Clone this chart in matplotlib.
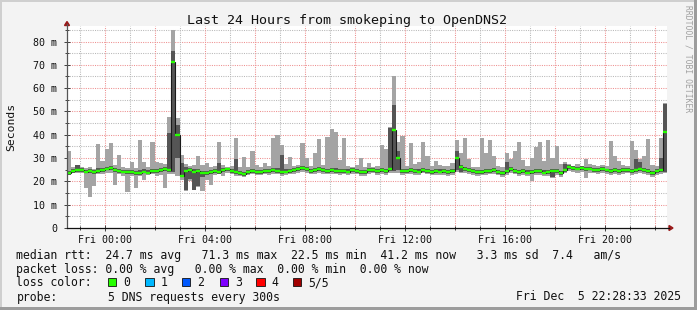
import matplotlib
matplotlib.use('Agg')
import matplotlib.pyplot as plt
import numpy as np
from matplotlib.lines import Line2D
from matplotlib.patches import Polygon, Rectangle

# ---------------- data (ms), 10-minute samples over the last 24 h ----------------
median = [
    23.6, 24.4, 25.0, 24.8, 24.2, 24.6, 24.0, 24.3, 24.8, 25.5,
    25.6, 24.9, 24.5, 24.2, 23.9, 24.1, 23.7, 23.6, 24.2, 23.8,
    24.5, 24.3, 25.0, 25.3, 25.0, 71.3, 40.0, 22.5, 24.5, 24.8,
    24.0, 24.3, 23.6, 23.4, 24.1, 24.6, 23.9, 24.7, 25.2, 24.4,
    24.0, 23.5, 23.2, 23.9, 24.4, 24.0, 24.1, 24.6, 24.3, 24.9,
    24.5, 24.0, 24.2, 24.5, 24.8, 25.3, 25.8, 25.1, 24.6, 24.9,
    25.2, 24.7, 24.5, 24.9, 24.6, 24.3, 24.6, 24.2, 24.8, 24.5,
    24.0, 23.9, 24.7, 25.0, 24.4, 24.9, 24.3, 25.3, 42.0, 30.0,
    24.3, 24.6, 24.9, 24.4, 24.2, 25.0, 24.5, 24.1, 24.4, 24.2,
    24.3, 24.0, 24.4, 30.0, 26.0, 25.3, 24.8, 24.4, 24.0, 24.1,
    24.3, 24.6, 24.9, 24.1, 23.6, 24.5, 25.1, 24.6, 24.0, 24.3,
    23.8, 23.9, 24.5, 24.3, 23.8, 24.1, 24.6, 24.4, 23.6, 25.0,
    26.2, 25.8, 25.5, 25.6, 25.3, 25.5, 25.0, 24.8, 25.2, 24.7,
    24.4, 24.8, 24.5, 24.9, 25.0, 24.5, 24.9, 25.4, 24.7, 24.3,
    23.6, 24.5, 25.0, 41.2]

ping_max = [
    33.0, 26.2, 27.2, 26.0, 25.8, 26.3, 25.5, 36.0, 28.7, 34.0,
    36.6, 27.0, 31.5, 26.0, 25.7, 28.5, 25.8, 37.7, 28.5, 26.0,
    37.0, 28.5, 28.0, 27.5, 47.5, 85.0, 47.0, 31.5, 27.5, 26.5,
    27.0, 31.0, 27.0, 27.7, 26.0, 26.5, 36.7, 27.0, 26.2, 26.5,
    38.4, 26.0, 30.5, 26.0, 33.0, 27.0, 26.0, 28.0, 26.5, 38.7,
    40.0, 35.6, 27.5, 30.5, 26.5, 27.0, 36.3, 30.0, 26.5, 32.0,
    38.0, 27.0, 39.0, 42.4, 41.0, 29.0, 38.4, 26.5, 26.0, 27.0,
    30.0, 26.0, 27.7, 26.0, 26.5, 35.6, 34.0, 43.4, 65.0, 37.0,
    39.4, 26.5, 36.3, 27.5, 28.5, 36.7, 31.0, 26.5, 28.7, 27.0,
    26.5, 26.5, 28.0, 37.7, 32.3, 38.7, 29.4, 26.3, 26.0, 38.4,
    32.0, 37.7, 31.0, 26.5, 26.0, 32.0, 29.5, 33.0, 37.0, 29.0,
    26.5, 29.9, 34.6, 37.0, 28.7, 37.7, 30.0, 35.0, 27.5, 28.5,
    27.5, 26.8, 27.3, 26.5, 29.4, 27.5, 27.0, 26.5, 27.0, 26.5,
    37.4, 30.9, 28.7, 27.0, 26.5, 37.4, 33.4, 29.4, 31.0, 38.0,
    27.0, 26.8, 38.5, 53.5]

ping_min = [
    23.0, 23.5, 23.8, 23.5, 17.0, 13.4, 18.0, 23.3, 23.0, 23.5,
    23.6, 18.5, 23.0, 22.5, 15.6, 22.5, 17.0, 22.5, 20.5, 22.7,
    23.0, 22.5, 22.8, 17.0, 23.0, 23.0, 22.5, 20.5, 16.0, 20.0,
    16.3, 17.5, 15.8, 20.5, 18.5, 22.7, 23.0, 22.5, 23.5, 23.0,
    22.5, 22.3, 22.0, 22.6, 23.0, 22.8, 22.7, 23.2, 22.8, 23.3,
    23.0, 22.5, 22.9, 23.0, 23.2, 23.6, 24.0, 23.4, 23.0, 23.2,
    23.5, 23.0, 23.0, 23.3, 23.0, 22.7, 23.0, 22.6, 23.2, 23.0,
    22.5, 22.4, 23.1, 23.4, 22.9, 23.3, 22.8, 23.5, 23.8, 23.5,
    22.8, 23.0, 23.3, 22.9, 22.6, 23.4, 23.0, 22.6, 22.8, 22.7,
    22.8, 22.5, 22.9, 24.0, 23.5, 23.6, 23.2, 22.8, 22.4, 22.6,
    22.8, 23.0, 23.3, 22.6, 22.0, 22.9, 23.5, 23.0, 22.4, 22.7,
    22.2, 20.3, 22.9, 22.7, 22.2, 22.5, 21.5, 22.8, 22.0, 23.4,
    24.3, 24.0, 23.8, 23.9, 21.5, 23.8, 23.4, 23.1, 23.5, 23.0,
    22.8, 23.1, 22.9, 23.3, 23.4, 22.9, 23.2, 23.7, 23.0, 22.6,
    22.0, 22.8, 23.3, 23.5]

ping_q_hi = [
    24.5, 25.3, 27.0, 25.6, 25.0, 25.4, 24.8, 25.6, 25.8, 26.3,
    26.4, 25.7, 25.4, 25.0, 24.7, 25.0, 24.5, 24.8, 25.2, 24.7,
    25.5, 25.2, 25.9, 26.3, 40.7, 76.0, 44.0, 27.7, 26.0, 25.6,
    25.5, 25.4, 24.5, 24.3, 25.0, 25.5, 28.0, 25.6, 25.8, 25.3,
    29.4, 24.4, 24.1, 24.8, 25.3, 24.9, 25.0, 25.5, 25.2, 25.8,
    25.8, 31.5, 25.1, 25.4, 25.6, 26.2, 26.8, 26.0, 25.5, 25.8,
    26.1, 25.6, 25.5, 25.9, 25.6, 25.2, 25.5, 25.1, 25.7, 25.4,
    24.9, 24.8, 25.6, 25.9, 25.3, 25.8, 25.2, 43.0, 52.7, 33.0,
    25.4, 25.5, 25.8, 25.3, 25.1, 25.9, 25.4, 25.0, 25.3, 25.1,
    25.2, 24.9, 25.3, 33.0, 27.0, 26.2, 25.7, 25.3, 24.9, 25.0,
    25.2, 25.5, 25.8, 25.0, 24.5, 28.5, 26.0, 25.5, 24.9, 25.2,
    24.7, 24.8, 25.4, 25.2, 24.7, 25.0, 25.5, 25.3, 24.5, 27.5,
    27.0, 26.6, 26.3, 26.4, 26.1, 26.3, 25.8, 25.6, 26.0, 25.5,
    25.3, 25.7, 25.4, 25.8, 25.9, 25.4, 29.4, 28.5, 25.6, 25.2,
    24.5, 25.4, 30.0, 53.0]

ping_q_lo = [
    22.9, 23.6, 24.2, 24.0, 23.4, 23.8, 23.2, 23.5, 24.0, 24.7,
    24.8, 24.1, 23.7, 23.4, 23.1, 23.3, 22.9, 22.8, 23.4, 23.0,
    23.7, 23.5, 24.2, 24.5, 24.2, 24.0, 30.0, 22.5, 16.5, 21.0,
    16.5, 18.0, 22.0, 22.6, 23.3, 23.8, 23.1, 23.9, 24.4, 23.6,
    23.2, 22.7, 22.4, 23.1, 23.6, 23.2, 23.3, 23.8, 23.5, 24.1,
    23.7, 23.2, 23.4, 23.7, 24.0, 24.5, 25.0, 24.3, 23.8, 24.1,
    24.4, 23.9, 23.7, 24.1, 23.8, 23.5, 23.8, 23.4, 24.0, 23.7,
    23.2, 23.1, 23.9, 24.2, 23.6, 24.1, 23.5, 24.5, 24.3, 25.0,
    23.5, 23.8, 24.1, 23.6, 23.4, 24.2, 23.7, 23.3, 23.6, 23.4,
    23.5, 23.2, 23.6, 25.0, 24.0, 24.5, 24.0, 23.6, 23.2, 23.3,
    23.5, 23.8, 24.1, 23.3, 22.8, 23.7, 24.3, 23.8, 23.2, 23.5,
    23.0, 23.1, 23.7, 23.5, 23.0, 23.3, 21.7, 23.6, 22.8, 24.2,
    25.4, 25.0, 24.7, 24.8, 24.5, 24.7, 24.2, 24.0, 24.4, 23.9,
    23.6, 24.0, 23.7, 24.1, 24.2, 23.7, 24.1, 24.6, 23.9, 23.5,
    22.8, 23.7, 24.2, 24.0]

x_tick_hours = [0, 4, 8, 12, 16, 20]
x_tick_labels = ["Fri 00:00", "Fri 04:00", "Fri 08:00", "Fri 12:00", "Fri 16:00", "Fri 20:00"]
y_ticks = [0, 10, 20, 30, 40, 50, 60, 70, 80]
y_tick_labels = ["0", "10 m", "20 m", "30 m", "40 m", "50 m", "60 m", "70 m", "80 m"]

loss_labels = ["0", "1", "2", "3", "4", "5/5"]
loss_colors = ["#26ff00", "#00b8ff", "#0059ff", "#7e00ff", "#ff0000", "#a10000"]

title = "Last 24 Hours from smokeping to OpenDNS2"
legend_rows = [
    "median rtt:  24.7 ms avg   71.3 ms max  22.5 ms min  41.2 ms now   3.3 ms sd  7.4   am/s",
    "packet loss: 0.00 % avg   0.00 % max  0.00 % min  0.00 % now",
]
probe_text = "5 DNS requests every 300s"
stamp_text = "Fri Dec  5 22:28:33 2025"

# ---------------- figure ----------------
W, H = 697, 310
MONO = "DejaVu Sans Mono"
plt.rcParams['font.family'] = [MONO]

fig = plt.figure(figsize=(W / 100, H / 100), dpi=100, facecolor='#f3f3f3')


def fx(x):
    return x / W


def fy(y):
    return 1 - y / H


L, T, R, B = 67, 26, 667, 228
ax = fig.add_axes([fx(L), fy(B), (R - L) / W, (B - T) / H])
ax.set_facecolor('white')

end_h = 22 + 28 / 60 + 33 / 3600
start_h = end_h - 24
n = len(median)
edges = np.linspace(start_h, end_h, n + 1)

ax.set_xlim(start_h, end_h)
ax.set_ylim(0, (B - T) / 2.331)

# grid
for v in range(5, 90, 5):
    major = v % 10 == 0
    ax.axhline(v, color='#ee9090' if major else '#b8b8b8', lw=0.75,
               ls=(0, (1, 1.2)), zorder=0.5)
for h in range(-1, 23):
    major = h % 2 == 0
    ax.axvline(h, color='#ee9090' if major else '#b8b8b8', lw=0.75,
               ls=(0, (1, 1.2)), zorder=0.5)

# smoke
ax.stairs(ping_max, edges, baseline=ping_min, fill=True, color='#a4a4a4', lw=0, zorder=2)
ax.stairs(ping_q_hi, edges, baseline=ping_q_lo, fill=True, color='#555555', lw=0, zorder=3)

# median
ax.stairs(median, edges, baseline=None, color='#1a1a1a', lw=0.8, zorder=4)
ax.hlines(median, edges[:-1], edges[1:], color=loss_colors[0], lw=1.7, zorder=5)

# ticks
ax.set_xticks(x_tick_hours)
ax.set_xticklabels(x_tick_labels)
ax.set_xticks(list(range(-1, 23)), minor=True)
ax.set_yticks(y_ticks)
ax.set_yticklabels(y_tick_labels)
ax.set_yticks(list(range(5, 90, 10)), minor=True)
ax.tick_params(axis='both', which='both', direction='inout', color='#404040', width=0.7)
ax.tick_params(axis='both', which='major', length=4, labelsize=7.2, labelcolor='#111111')
ax.tick_params(axis='both', which='minor', length=3)
ax.tick_params(axis='x', which='major', pad=3)
ax.tick_params(axis='y', which='major', pad=5)
for s in ax.spines.values():
    s.set_visible(False)

# axes lines with arrows
fig.add_artist(Line2D([fx(L), fx(L)], [fy(B), fy(24)], color='#555555', lw=0.9,
                      transform=fig.transFigure))
fig.add_artist(Line2D([fx(L), fx(669)], [fy(B), fy(B)], color='#111111', lw=0.9,
                      transform=fig.transFigure))
fig.add_artist(Polygon([[fx(64.5), fy(25.5)], [fx(69.5), fy(25.5)], [fx(67), fy(21.5)]],
                       closed=True, color='#9a1a1a', transform=fig.transFigure))
fig.add_artist(Polygon([[fx(669), fy(225.5)], [fx(669), fy(230.5)], [fx(673), fy(228)]],
                       closed=True, color='#9a1a1a', transform=fig.transFigure))

# texts
fig.text(fx(347), fy(24), title, ha='center', va='baseline', fontsize=9.6, color='#111111')
fig.text(fx(11), fy(127), "Seconds", rotation=90, ha='center', va='center',
         fontsize=8.2, color='#111111')
fig.text(fx(688), fy(5), "RRDTOOL / TOBI OETIKER", rotation=-90, ha='center', va='top',
         fontsize=5.8, color='#a0a0a0')

LEG = 8.3
fig.text(fx(16.4), fy(258.5), legend_rows[0], ha='left', va='baseline', fontsize=LEG, color='#111111')
fig.text(fx(16.4), fy(272.5), legend_rows[1], ha='left', va='baseline', fontsize=LEG, color='#111111')
fig.text(fx(16.4), fy(286.5), "loss color:", ha='left', va='baseline', fontsize=LEG, color='#111111')
box_x = [108, 145.3, 182, 219.6, 256.4, 292.9]
for bx, lab, col in zip(box_x, loss_labels, loss_colors):
    fig.add_artist(Rectangle((fx(bx), fy(286.3)), 8.3 / W, 8.6 / H, facecolor=col,
                             edgecolor='#111111', lw=0.6, transform=fig.transFigure))
    fig.text(fx(bx + 15.3), fy(286.5), lab, ha='left', va='baseline', fontsize=LEG, color='#111111')
fig.text(fx(16.4), fy(300.5), "probe:", ha='left', va='baseline', fontsize=LEG, color='#111111')
fig.text(fx(107.6), fy(300.5), probe_text, ha='left', va='baseline', fontsize=LEG, color='#111111')
fig.text(fx(680.5), fy(300.5), stamp_text, ha='right', va='baseline', fontsize=LEG, color='#111111')

# canvas border (light top/left, dark right/bottom)
fig.add_artist(Rectangle((0, fy(2)), 1, 2 / H, color='#cfcfcf', lw=0, transform=fig.transFigure))
fig.add_artist(Rectangle((0, 0), 2 / W, 1, color='#cfcfcf', lw=0, transform=fig.transFigure))
fig.add_artist(Rectangle((fx(694), 0), 3 / W, 1, color='#9c9c9c', lw=0, transform=fig.transFigure))
fig.add_artist(Rectangle((0, 0), 1, 3 / H, color='#9c9c9c', lw=0, transform=fig.transFigure))

fig.savefig('out.png', dpi=100, facecolor=fig.get_facecolor())
